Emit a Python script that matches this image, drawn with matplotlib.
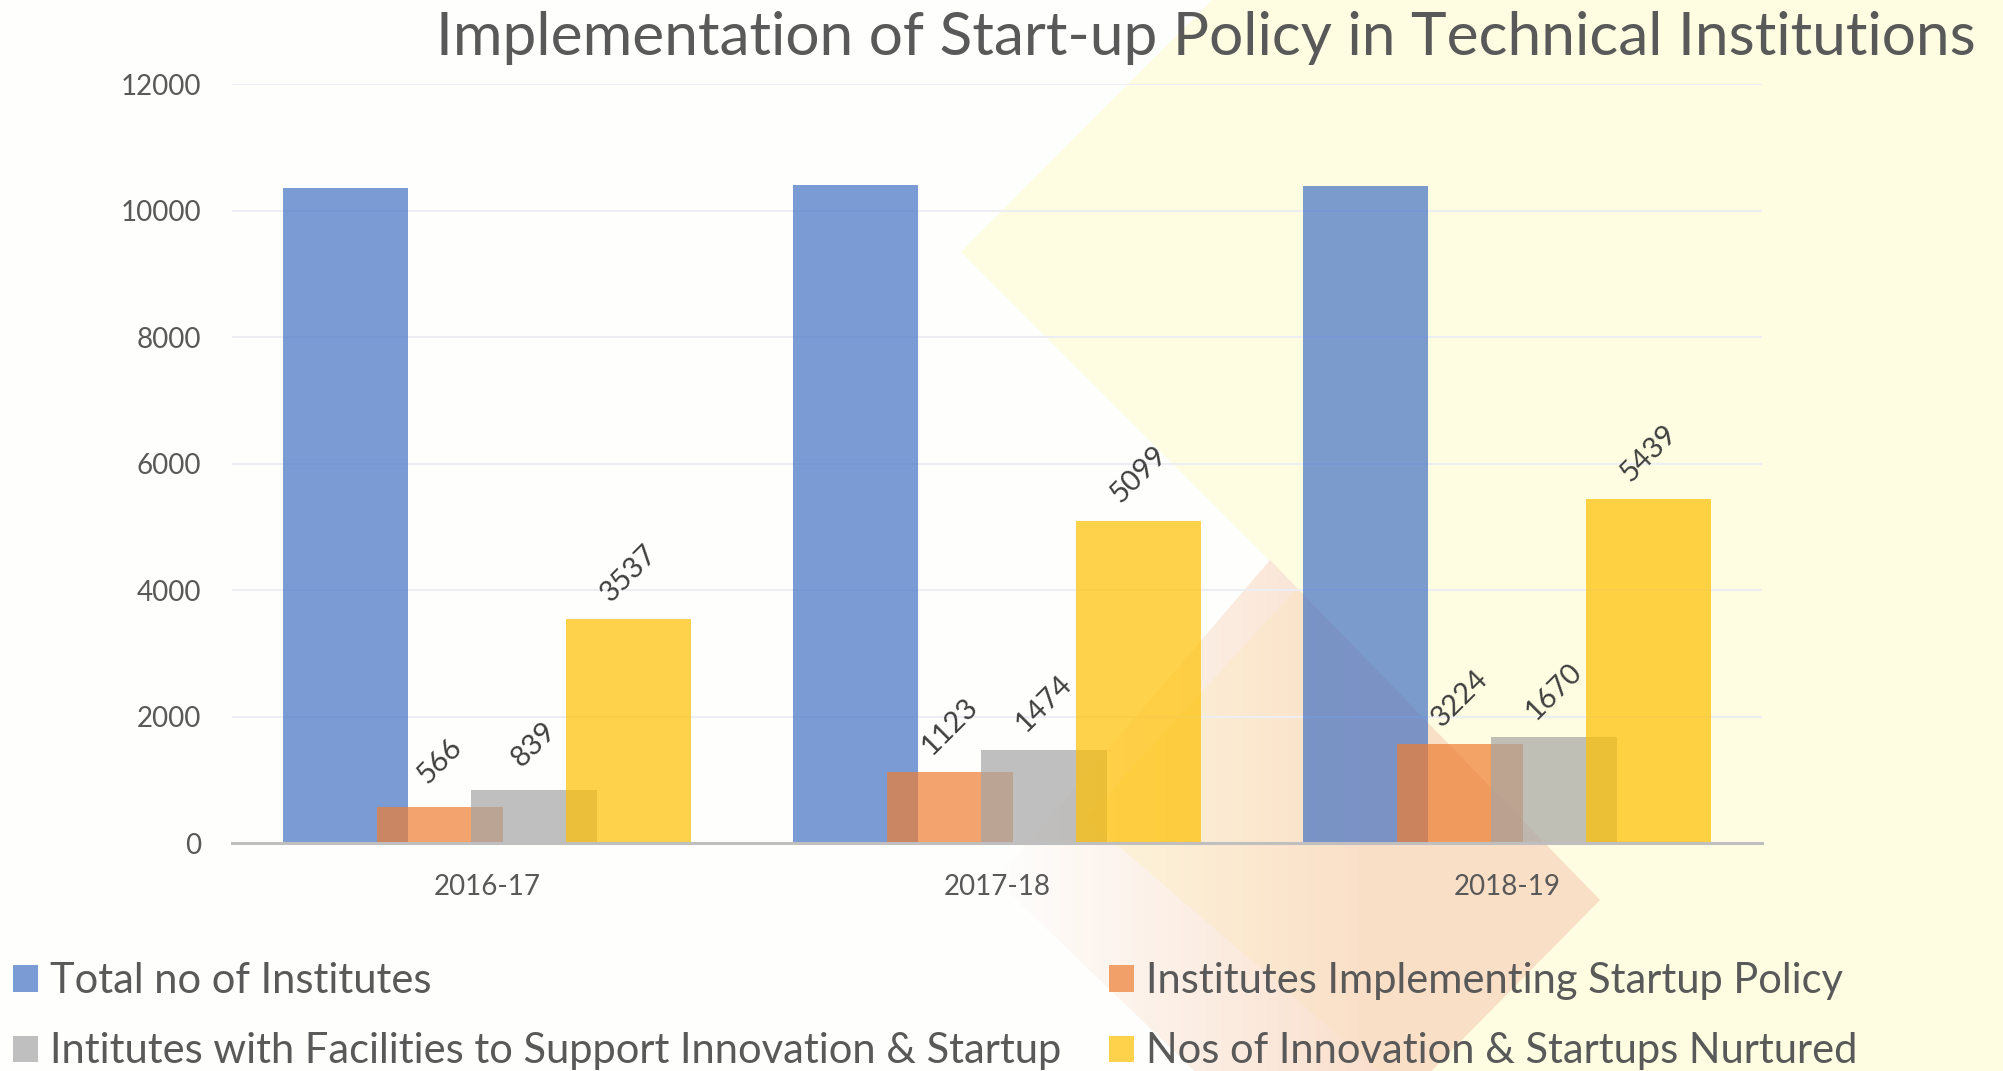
import numpy as np
import matplotlib
matplotlib.use("Agg")
import matplotlib.pyplot as plt
from matplotlib.patches import Polygon, Patch

plt.rcParams['font.family'] = ['Lato', 'DejaVu Sans']

# data
years = ["2016-17", "2017-18", "2018-19"]
total_institutes = [10360, 10400, 10385]
implementing_policy = [566, 1123, 1560]
with_facilities = [839, 1474, 1670]
startups_nurtured = [3537, 5099, 5439]

# labels as printed on the chart (the 2018-19 orange label reads 3224)
implementing_labels = ["566", "1123", "3224"]
facilities_labels = ["839", "1474", "1670"]
nurtured_labels = ["3537", "5099", "5439"]

names = ["Total no of Institutes",
         "Institutes Implementing Startup Policy",
         "Intitutes with Facilities to Support Innovation & Startup",
         "Nos of Innovation & Startups Nurtured"]
colors = ["#4472C4", "#ED7D31", "#A5A5A5", "#FFC000"]

W, H = 2003, 1071
fig = plt.figure(figsize=(W / 100, H / 100), dpi=100)
fig.patch.set_facecolor("#FEFEFD")

# faint decorative background (pixel coordinates of the figure)
bg = fig.add_axes([0, 0, 1, 1], zorder=0)
yellow = Polygon([(961, 252), (1212, 0), (W, 0), (W, H), (1380, H), (1086, 818), (1297, 588)],
                 closed=True, facecolor="#FFFCDB", edgecolor="none", alpha=0.8, zorder=1)
bg.add_patch(yellow)
peach = Polygon([(1270, 560), (1600, 900), (1316, 1188), (996, 880)], closed=True,
                facecolor="none", edgecolor="none")
bg.add_patch(peach)
grad = np.zeros((10, 200, 4))
grad[..., 0] = 0.98
grad[..., 1] = 0.85
grad[..., 2] = 0.76
grad[..., 3] = np.clip(np.linspace(0.0, 1.3, 200), 0, 0.8)[None, :]
im = bg.imshow(grad, extent=(996, 1600, 1188, 560), aspect="auto", interpolation="bilinear",
               zorder=2)
im.set_clip_path(peach)
bg.set_xlim(0, W)
bg.set_ylim(H, 0)
bg.axis("off")

ax = fig.add_axes([232 / W, 1 - 843 / H, (1762 - 232) / W, (843 - 84.3) / H], zorder=1)
ax.set_facecolor("none")

x = np.arange(len(years))
width = 0.2458
step = 0.185
series = [total_institutes, implementing_policy, with_facilities, startups_nurtured]
labels = [None, implementing_labels, facilities_labels, nurtured_labels]
for i, (vals, col) in enumerate(zip(series, colors)):
    pos = x + (i - 1.5) * step
    ax.bar(pos, vals, width=width, color=col, alpha=0.7, zorder=2 + i, linewidth=0)
    if labels[i] is not None:
        for px, v, t in zip(pos, vals, labels[i]):
            ax.annotate(t, (px, v), xytext=(0, 33), textcoords="offset points",
                        rotation=45, ha="center", va="center", fontsize=21,
                        color="#404040", zorder=10)

ax.set_xlim(-0.5, 2.5)
ax.set_ylim(0, 12000)
ax.set_yticks(range(0, 12001, 2000))
ax.set_xticks(x)
ax.set_xticklabels(years)
ax.grid(axis="y", color="#ECEEF3", linewidth=1.5, zorder=0)
ax.set_axisbelow(True)
for s in ["top", "left", "right"]:
    ax.spines[s].set_visible(False)
ax.spines["bottom"].set_color("#BFBFBF")
ax.spines["bottom"].set_linewidth(2.2)
ax.spines["bottom"].set_zorder(7)
ax.tick_params(axis="both", length=0, labelsize=20, labelcolor="#595959")
ax.tick_params(axis="y", pad=22)
ax.tick_params(axis="x", pad=22)

fig.text(1206 / W, 1 - 55 / H, "Implementation of Start-up Policy in Technical Institutions",
         ha="center", va="baseline", fontsize=43.5, color="#595959")

handles = [Patch(facecolor=c, alpha=0.7, edgecolor="none") for c in colors]
leg_kw = dict(loc="upper left", frameon=False, fontsize=30, borderpad=0, borderaxespad=0,
              handlelength=0.6, handleheight=0.6, handletextpad=0.3, labelspacing=0.78,
              labelcolor="#595959")
leg1 = fig.legend([handles[0], handles[2]], [names[0], names[2]],
                  bbox_to_anchor=(13 / W, 1 - 962 / H), **leg_kw)
leg2 = fig.legend([handles[1], handles[3]], [names[1], names[3]],
                  bbox_to_anchor=(1109 / W, 1 - 962 / H), **leg_kw)

fig.savefig("out.png", dpi=100, facecolor=fig.get_facecolor())
